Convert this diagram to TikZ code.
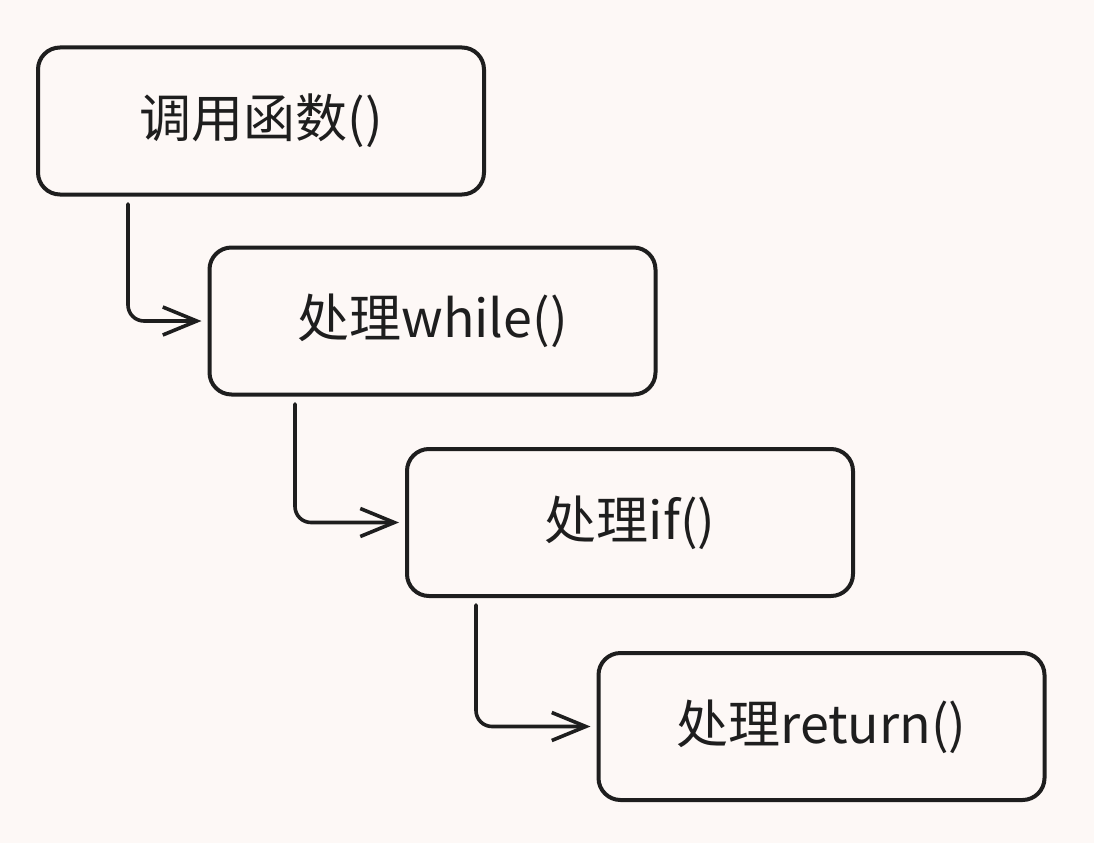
\documentclass[tikz,border=0pt]{standalone}
\usepackage{fontspec}
\setmainfont{Noto Sans CJK SC}
\usetikzlibrary{arrows.meta}
\definecolor{bgc}{HTML}{FDF8F6}
\definecolor{ink}{HTML}{1E1E1E}
\begin{document}
\begin{tikzpicture}[x=1pt,y=-1pt,
  box/.style={draw=ink, line width=4pt, rounded corners=22pt, minimum width=446pt, minimum height=147pt, inner sep=0pt, text=ink, font=\fontsize{52}{62}\selectfont},
  conn/.style={draw=ink, line width=3.6pt, rounded corners=16pt, line cap=round, -{Straight Barb[length=34pt,width=28pt,line width=3.6pt]}, shorten >=6pt}]
\fill[bgc] (0,0) rectangle (1094,843);
\useasboundingbox (0,0) rectangle (1094,843);
\node[box] (b1) at (261,121) {调用函数()};
\node[box] (b2) at (432.5,321) {处理while()};
\node[box] (b3) at (630,522.5) {处理if()};
\node[box] (b4) at (821.5,726.5) {处理return()};
\coordinate (s1) at (128,204);
\coordinate (s2) at (295,404);
\coordinate (s3) at (476,605);
\draw[conn] (s1) |- (b2.west);
\draw[conn] (s2) |- (b3.west);
\draw[conn] (s3) |- (b4.west);
\end{tikzpicture}
\end{document}
